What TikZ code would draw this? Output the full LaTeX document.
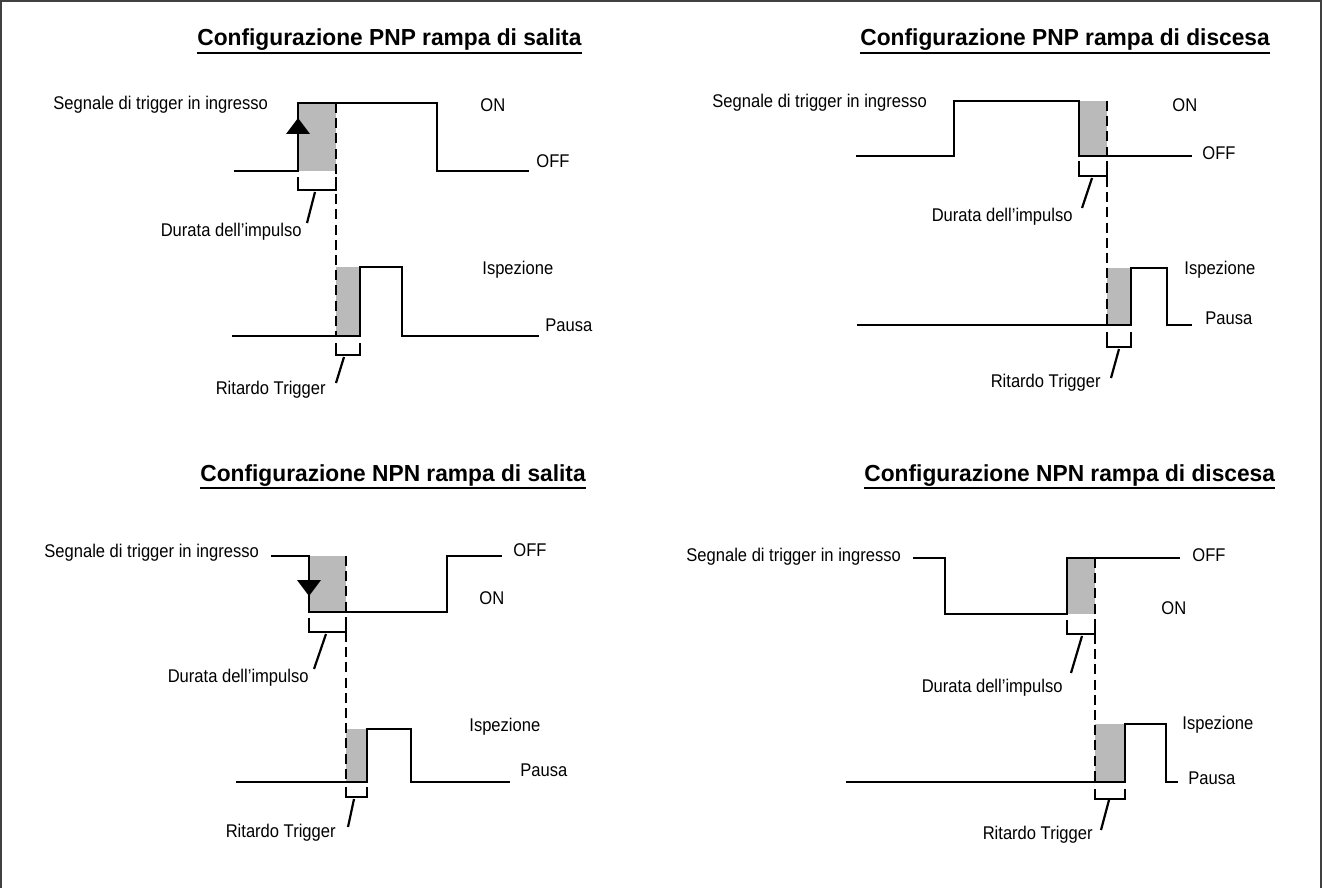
\documentclass[tikz,border=0pt]{standalone}
\usepackage{fontspec}
\usepackage{tikz}
\newfontfamily\lblfam[FakeStretch=0.9]{Liberation Sans}
\newfontfamily\ttlfam[FakeStretch=0.98]{Liberation Sans}

\begin{document}
\begin{tikzpicture}[x=0.5pt,y=-0.5pt,line join=miter,
  sig/.style={line width=1.4pt},
  pulse/.style={fill=black!27},
  guide/.style={line width=1.1pt,dash pattern=on 5pt off 2.6pt},
  brk/.style={line width=1.1pt},
  lbl/.style={font=\lblfam\fontsize{9.2}{11}\selectfont,inner sep=0pt},
  ttl/.style={font=\ttlfam\bfseries\fontsize{11.6}{14}\selectfont,inner sep=0pt},
  uline/.style={line width=1pt}]
  \useasboundingbox (0,0) rectangle (1322,888);
  \draw[line width=0.9pt,black!75] (1,888) -- (1,1) -- (1321,1) -- (1321,888);

  % PNP rampa di salita
  \node[ttl,anchor=base west] (t1) at (197,46) {Configurazione PNP rampa di salita};
  \draw[uline] ([yshift=-3.5pt]t1.base west) -- ([yshift=-3.5pt]t1.base east);
  \fill[pulse] (298,103) rectangle (336,171);
  \fill[pulse] (336,267) rectangle (360,336);
  \draw[sig] (234,171) -- (298,171) -- (298,103) -- (437,103) -- (437,171) -- (529,171);
  \fill (286,134) -- (298,118) -- (310,134) -- cycle;
  \draw[sig] (232,336) -- (360,336) -- (360,267) -- (402,267) -- (402,336) -- (539,336);
  \draw[guide] (336,103) -- (336,336);
  \draw[brk] (298,177) -- (298,190) -- (336,190) -- (336,177);
  \draw[brk] (336,343) -- (336,355) -- (360,355) -- (360,343);
  \node[lbl,anchor=mid west] (s1) at (53,105) {Segnale di trigger in ingresso};
  \node[lbl,anchor=mid west] (on1) at (480,107) {ON};
  \node[lbl,anchor=mid west] (off1) at (536,163) {OFF};
  \node[lbl,anchor=mid east] (d1) at (302,232) {Durata dell’impulso};
  \node[lbl,anchor=mid west] (isp1) at (482,270) {Ispezione};
  \node[lbl,anchor=mid west] (pau1) at (545,327) {Pausa};
  \node[lbl,anchor=mid east] (r1) at (326,390) {Ritardo Trigger};
  \coordinate (d1a) at (315,192);
  \coordinate (d1b) at (307,223);
  \coordinate (r1a) at (344,357);
  \coordinate (r1b) at (336,383);
  \draw[brk] (d1a) -- (d1b);
  \draw[brk] (r1a) -- (r1b);

  % PNP rampa di discesa
  \node[ttl,anchor=base west] (t2) at (860,46) {Configurazione PNP rampa di discesa};
  \draw[uline] ([yshift=-3.5pt]t2.base west) -- ([yshift=-3.5pt]t2.base east);
  \fill[pulse] (1079,101) rectangle (1107,156);
  \fill[pulse] (1107,268) rectangle (1131,325);
  \draw[sig] (856,156) -- (954,156) -- (954,101) -- (1079,101) -- (1079,156) -- (1192,156);
  \draw[sig] (857,325) -- (1131,325) -- (1131,268) -- (1167,268) -- (1167,325) -- (1192,325);
  \draw[guide] (1107,101) -- (1107,325);
  \draw[brk] (1079,161) -- (1079,176) -- (1107,176) -- (1107,161);
  \draw[brk] (1107,332) -- (1107,347) -- (1131,347) -- (1131,332);
  \node[lbl,anchor=mid west] (s2) at (712,103) {Segnale di trigger in ingresso};
  \node[lbl,anchor=mid west] (on2) at (1172,107) {ON};
  \node[lbl,anchor=mid west] (off2) at (1202,155) {OFF};
  \node[lbl,anchor=mid east] (d2) at (1073,217) {Durata dell’impulso};
  \node[lbl,anchor=mid west] (isp2) at (1184,270) {Ispezione};
  \node[lbl,anchor=mid west] (pau2) at (1205,320) {Pausa};
  \node[lbl,anchor=mid east] (r2) at (1101,383) {Ritardo Trigger};
  \coordinate (d2a) at (1092,178);
  \coordinate (d2b) at (1082,208);
  \coordinate (r2a) at (1119,349);
  \coordinate (r2b) at (1111,378);
  \draw[brk] (d2a) -- (d2b);
  \draw[brk] (r2a) -- (r2b);

  % NPN rampa di salita
  \node[ttl,anchor=base west] (t3) at (200,481) {Configurazione NPN rampa di salita};
  \draw[uline] ([yshift=-3.5pt]t3.base west) -- ([yshift=-3.5pt]t3.base east);
  \fill[pulse] (309,556) rectangle (346,612);
  \fill[pulse] (346,729) rectangle (367,782);
  \draw[sig] (271,556) -- (309,556) -- (309,612) -- (447,612) -- (447,556) -- (502,556);
  \fill (297,580) -- (309,596) -- (321,580) -- cycle;
  \draw[sig] (236,782) -- (367,782) -- (367,729) -- (411,729) -- (411,782) -- (510,782);
  \draw[guide] (346,556) -- (346,782);
  \draw[brk] (309,618) -- (309,632) -- (346,632) -- (346,618);
  \draw[brk] (346,787) -- (346,797) -- (367,797) -- (367,787);
  \node[lbl,anchor=mid west] (s3) at (44,553) {Segnale di trigger in ingresso};
  \node[lbl,anchor=mid west] (off3) at (513,552) {OFF};
  \node[lbl,anchor=mid west] (on3) at (479,600) {ON};
  \node[lbl,anchor=mid east] (d3) at (309,678) {Durata dell’impulso};
  \node[lbl,anchor=mid west] (isp3) at (469,727) {Ispezione};
  \node[lbl,anchor=mid west] (pau3) at (520,772) {Pausa};
  \node[lbl,anchor=mid east] (r3) at (336,833) {Ritardo Trigger};
  \coordinate (d3a) at (326,634);
  \coordinate (d3b) at (314,669);
  \coordinate (r3a) at (354,799);
  \coordinate (r3b) at (348,827);
  \draw[brk] (d3a) -- (d3b);
  \draw[brk] (r3a) -- (r3b);

  % NPN rampa di discesa
  \node[ttl,anchor=base west] (t4) at (864,481) {Configurazione NPN rampa di discesa};
  \draw[uline] ([yshift=-3.5pt]t4.base west) -- ([yshift=-3.5pt]t4.base east);
  \fill[pulse] (1067,558) rectangle (1095,614);
  \fill[pulse] (1095,724) rectangle (1125,782);
  \draw[sig] (913,558) -- (945,558) -- (945,614) -- (1067,614) -- (1067,558) -- (1180,558);
  \draw[sig] (846,782) -- (1125,782) -- (1125,724) -- (1166,724) -- (1166,782) -- (1178,782);
  \draw[guide] (1095,558) -- (1095,782);
  \draw[brk] (1067,620) -- (1067,634) -- (1095,634) -- (1095,620);
  \draw[brk] (1095,789) -- (1095,799) -- (1125,799) -- (1125,789);
  \node[lbl,anchor=mid west] (s4) at (686,557) {Segnale di trigger in ingresso};
  \node[lbl,anchor=mid west] (off4) at (1192,557) {OFF};
  \node[lbl,anchor=mid west] (on4) at (1161,610) {ON};
  \node[lbl,anchor=mid east] (d4) at (1063,688) {Durata dell’impulso};
  \node[lbl,anchor=mid west] (isp4) at (1182,725) {Ispezione};
  \node[lbl,anchor=mid west] (pau4) at (1188,780) {Pausa};
  \node[lbl,anchor=mid east] (r4) at (1093,835) {Ritardo Trigger};
  \coordinate (d4a) at (1082,636);
  \coordinate (d4b) at (1071,673);
  \coordinate (r4a) at (1109,800);
  \coordinate (r4b) at (1101,830);
  \draw[brk] (d4a) -- (d4b);
  \draw[brk] (r4a) -- (r4b);
\end{tikzpicture}
\end{document}
